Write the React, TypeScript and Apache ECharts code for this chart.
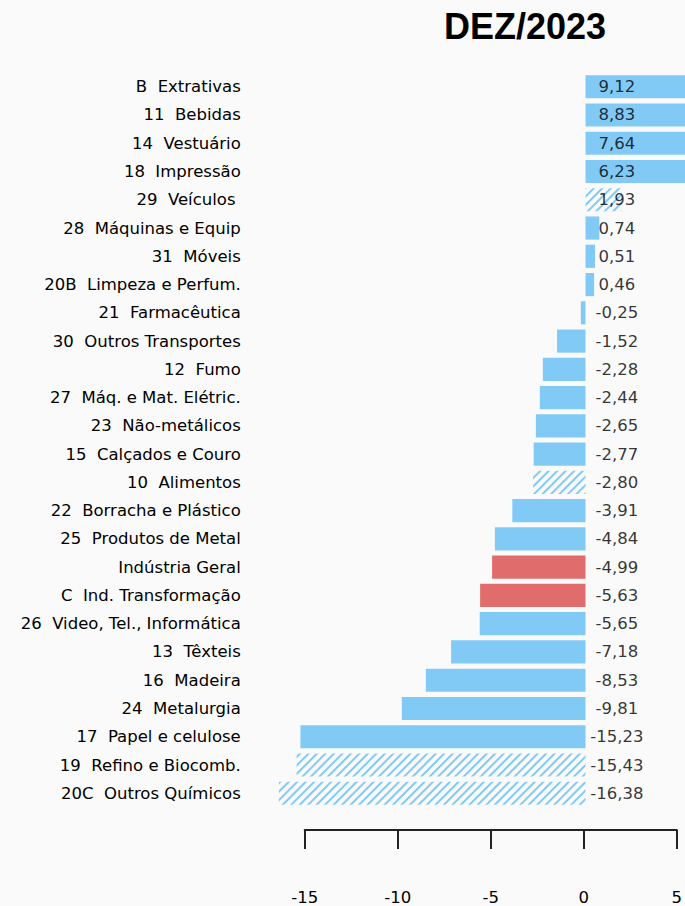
import React, { useEffect, useRef } from "react";
import * as echarts from "echarts";

const categories: string[] = [
  "B  Extrativas",
  "11  Bebidas",
  "14  Vestuário",
  "18  Impressão",
  "29  Veículos ",
  "28  Máquinas e Equip",
  "31  Móveis",
  "20B  Limpeza e Perfum.",
  "21  Farmacêutica",
  "30  Outros Transportes",
  "12  Fumo",
  "27  Máq. e Mat. Elétric.",
  "23  Não-metálicos",
  "15  Calçados e Couro",
  "10  Alimentos",
  "22  Borracha e Plástico",
  "25  Produtos de Metal",
  "Indústria Geral",
  "C  Ind. Transformação",
  "26  Video, Tel., Informática",
  "13  Têxteis",
  "16  Madeira",
  "24  Metalurgia",
  "17  Papel e celulose",
  "19  Refino e Biocomb.",
  "20C  Outros Químicos",
];

const values: number[] = [
  9.12, 8.83, 7.64, 6.23, 1.93, 0.74, 0.51, 0.46, -0.25, -1.52, -2.28, -2.44,
  -2.65, -2.77, -2.8, -3.91, -4.84, -4.99, -5.63, -5.65, -7.18, -8.53, -9.81,
  -15.23, -15.43, -16.38,
];

const hatched: string[] = [
  "29  Veículos ",
  "10  Alimentos",
  "19  Refino e Biocomb.",
  "20C  Outros Químicos",
];

const highlighted: string[] = ["Indústria Geral", "C  Ind. Transformação"];

const tickValues: number[] = [-15, -10, -5, 0, 5];

const title = "DEZ/2023";

const BLUE = "#82CAF6";
const RED = "#E06C6C";
const FONT = "DejaVu Sans";

export default function App() {
  const ref = useRef<HTMLDivElement>(null);

  useEffect(() => {
    if (!ref.current) return;
    const chart = echarts.init(ref.current, undefined, { renderer: "svg" });

    const W = 685;
    const scale = 18.72;
    const zero = 585.5;
    const xMin = -17;
    const xMax = (W - zero) / scale;
    const labelX = 1.68;

    const barData = values.map((v, i) => {
      const name = categories[i];
      if (hatched.includes(name)) {
        return {
          value: v,
          itemStyle: {
            color: "rgba(0,0,0,0)",
            decal: {
              symbol: "rect",
              symbolSize: 1,
              dashArrayX: [1, 0],
              dashArrayY: [2, 3.5],
              rotation: -Math.PI / 4,
              color: BLUE,
            },
          },
        };
      }
      return {
        value: v,
        itemStyle: { color: highlighted.includes(name) ? RED : BLUE },
      };
    });

    const fmt = (v: number) => v.toFixed(2).replace(".", ",");

    chart.setOption({
      animation: false,
      backgroundColor: "#FAFAFA",
      title: {
        text: title,
        left: 520,
        top: 3,
        textAlign: "center",
        textStyle: {
          fontFamily: "Liberation Sans",
          fontWeight: "bold",
          fontSize: 36,
          color: "#000",
        },
      },
      grid: [
        {
          left: zero + xMin * scale,
          right: 0,
          top: 72.6,
          height: 734.8,
        },
        {
          left: zero + tickValues[0] * scale,
          width: (tickValues[tickValues.length - 1] - tickValues[0]) * scale,
          top: 825,
          height: 10,
        },
      ],
      xAxis: [
        {
          type: "value",
          gridIndex: 0,
          min: xMin,
          max: xMax,
          show: false,
        },
        {
          type: "value",
          gridIndex: 1,
          min: tickValues[0],
          max: tickValues[tickValues.length - 1],
          interval: 5,
          position: "bottom",
          axisLine: { show: true, lineStyle: { color: "#222", width: 2 } },
          axisTick: {
            show: true,
            length: 19,
            lineStyle: { color: "#222", width: 2 },
          },
          splitLine: { show: false },
          axisLabel: {
            margin: 59,
            fontFamily: FONT,
            fontSize: 16.5,
            color: "#000",
          },
        },
      ],
      yAxis: [
        {
          type: "category",
          gridIndex: 0,
          data: categories,
          inverse: true,
          axisLine: { show: false },
          axisTick: { show: false },
          splitLine: { show: false },
          axisLabel: {
            margin: 26.5,
            fontFamily: FONT,
            fontSize: 16.5,
            color: "#000",
          },
        },
        {
          type: "value",
          gridIndex: 1,
          show: false,
        },
      ],
      series: [
        {
          type: "bar",
          xAxisIndex: 0,
          yAxisIndex: 0,
          data: barData,
          barCategoryGap: "18%",
          clip: false,
        },
        {
          type: "scatter",
          xAxisIndex: 0,
          yAxisIndex: 0,
          symbolSize: 0,
          z: 5,
          data: values.map((v, i) => [labelX, i]),
          label: {
            show: true,
            position: "inside",
            formatter: (p: any) => fmt(values[p.dataIndex]),
            fontFamily: FONT,
            fontSize: 16.5,
            color: "#000",
          },
        },
      ],
    });

    return () => chart.dispose();
  }, []);

  return (
    <div
      ref={ref}
      style={{ position: "fixed", left: 0, top: 0, width: 685, height: 906 }}
    />
  );
}
